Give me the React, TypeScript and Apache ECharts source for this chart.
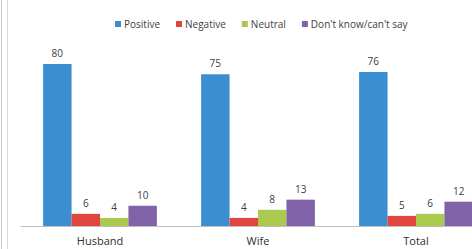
import React, { useEffect, useRef } from "react";
import * as echarts from "echarts";

const categories = ["Husband", "Wife", "Total"];
const seriesNames = ["Positive", "Negative", "Neutral", "Don't know/can't say"];
const positive = [80, 75, 76];
const negative = [6, 4, 5];
const neutral = [4, 8, 6];
const dontKnow = [10, 13, 12];
const colors = ["#3b8fd0", "#e0453f", "#a9c94f", "#7f62a8"];

export default function App() {
  const ref = useRef<HTMLDivElement>(null);
  useEffect(() => {
    if (!ref.current) return;
    const chart = echarts.init(ref.current, undefined, { renderer: "svg" });
    const values = [positive, negative, neutral, dontKnow];
    chart.setOption({
      animation: false,
      backgroundColor: "#ffffff",
      textStyle: { fontFamily: "Open Sans, sans-serif" },
      legend: {
        top: 14,
        left: 110,
        itemWidth: 6,
        itemHeight: 6,
        itemGap: 16,
        icon: "rect",
        textStyle: { fontSize: 10, color: "#404040", padding: [0, 0, 0, -2] },
        data: seriesNames,
      },
      grid: {
        left: 21,
        width: 474,
        top: 23.5,
        height: 202.5,
        containLabel: false,
        outerBoundsMode: "none",
      },
      xAxis: {
        type: "category",
        data: categories,
        axisLine: { lineStyle: { color: "#bfbfbf", width: 1 } },
        axisTick: { show: false },
        axisLabel: { fontSize: 11, color: "#303030", margin: 9 },
      },
      yAxis: {
        type: "value",
        min: 0,
        max: 100,
        show: false,
      },
      graphic: [
        { type: "line", shape: { x1: 1.5, y1: 0, x2: 1.5, y2: 249 }, style: { stroke: "#c8c8c8", lineWidth: 1 } },
        { type: "line", shape: { x1: 7.5, y1: 0, x2: 7.5, y2: 249 }, style: { stroke: "#d8d8d8", lineWidth: 1 } },
      ],
      series: seriesNames.map((name, i) => ({
        name,
        type: "bar",
        data: values[i],
        barGap: "0%",
        barCategoryGap: "28%",
        itemStyle: { color: colors[i] },
        label: {
          show: true,
          position: "top",
          distance: 6,
          fontSize: 10,
          color: "#404040",
        },
      })),
    });
    return () => chart.dispose();
  }, []);
  return (
    <div
      ref={ref}
      style={{ position: "fixed", left: 0, top: 0, width: 472, height: 249 }}
    />
  );
}
